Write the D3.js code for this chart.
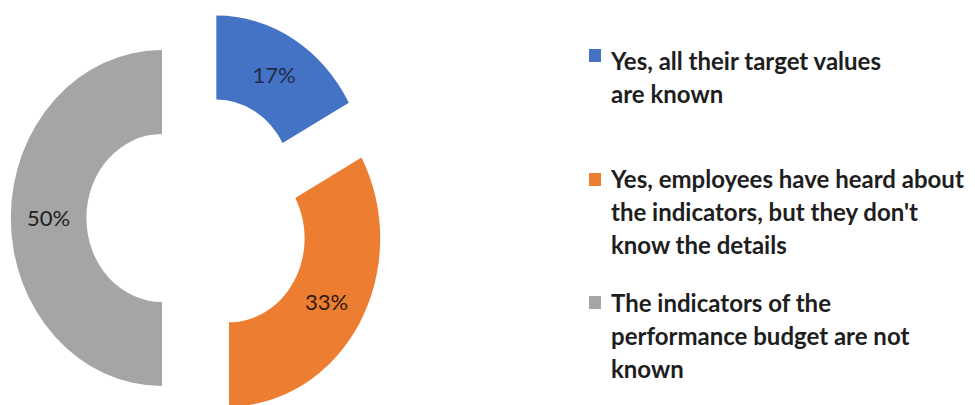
<!DOCTYPE html>
<html>
<head>
<meta charset="utf-8">
<script src="https://cdn.jsdelivr.net/npm/d3@7"></script>
<style>
  body { margin: 0; background: #fff; }
  svg { display: block; }
</style>
</head>
<body>
<svg id="chart" width="975" height="405"></svg>
<script>
// data
var categories = [
  ["Yes, all their target values", "are known"],
  ["Yes, employees have heard about", "the indicators, but they don't", "know the details"],
  ["The indicators of the", "performance budget are not", "known"]
];
var values = [17, 33, 50];
var valueLabels = ["17%", "33%", "50%"];
var colors = ["#4472C4", "#ED7D31", "#A5A5A5"];
var labelColors = ["#1f2a48", "#2e1a0c", "#222222"];

var svg = d3.select("#chart");

var cx = 198, cy = 218;
var sx = 0.9; // picture is a bit squeezed sideways
var explode = 40;

var pie = d3.pie().sort(null).value(function (d) { return d; });
var arcs = pie(values);

var arc = d3.arc().innerRadius(84).outerRadius(168);

var donut = svg.append("g")
  .attr("transform", "translate(" + cx + "," + cy + ") scale(" + sx + ",1)");

function offset(d) {
  var mid = (d.startAngle + d.endAngle) / 2;
  return [explode * Math.sin(mid), -explode * Math.cos(mid)];
}

donut.selectAll(".slice")
  .data(arcs)
  .join("path")
  .attr("class", "slice")
  .attr("fill", function (d, i) { return colors[i]; })
  .attr("transform", function (d) {
    var o = offset(d);
    return "translate(" + o[0] + "," + o[1] + ")";
  })
  .attr("d", arc);

// value labels at slice centroids
svg.selectAll(".val")
  .data(arcs)
  .join("text")
  .attr("class", "val")
  .attr("x", function (d) {
    var o = offset(d), c = arc.centroid(d);
    return cx + sx * (o[0] + c[0]);
  })
  .attr("y", function (d) {
    var o = offset(d), c = arc.centroid(d);
    return cy + o[1] + c[1];
  })
  .attr("text-anchor", "middle")
  .attr("dy", "0.35em")
  .attr("font-family", "Lato, 'Open Sans', sans-serif")
  .attr("font-size", 22)
  .attr("fill", function (d, i) { return labelColors[i]; })
  .text(function (d, i) { return valueLabels[i]; });

// legend
var markerY = [49, 173, 296];
var firstBaseline = [70, 188, 312];
var lineGap = 33;

var legend = svg.append("g");

var item = legend.selectAll(".item")
  .data(categories)
  .join("g")
  .attr("class", "item");

item.append("rect")
  .attr("x", 589)
  .attr("y", function (d, i) { return markerY[i]; })
  .attr("width", 12)
  .attr("height", 13)
  .attr("fill", function (d, i) { return colors[i]; });

item.append("text")
  .attr("font-family", "Lato, 'Open Sans', sans-serif")
  .attr("font-weight", 700)
  .attr("font-size", 24)
  .attr("fill", "#1e1e1e")
  .each(function (lines, i) {
    d3.select(this).selectAll("tspan")
      .data(lines)
      .join("tspan")
      .attr("x", 611)
      .attr("y", function (l, j) { return firstBaseline[i] + j * lineGap; })
      .text(function (l) { return l; });
  });
</script>
</body>
</html>
